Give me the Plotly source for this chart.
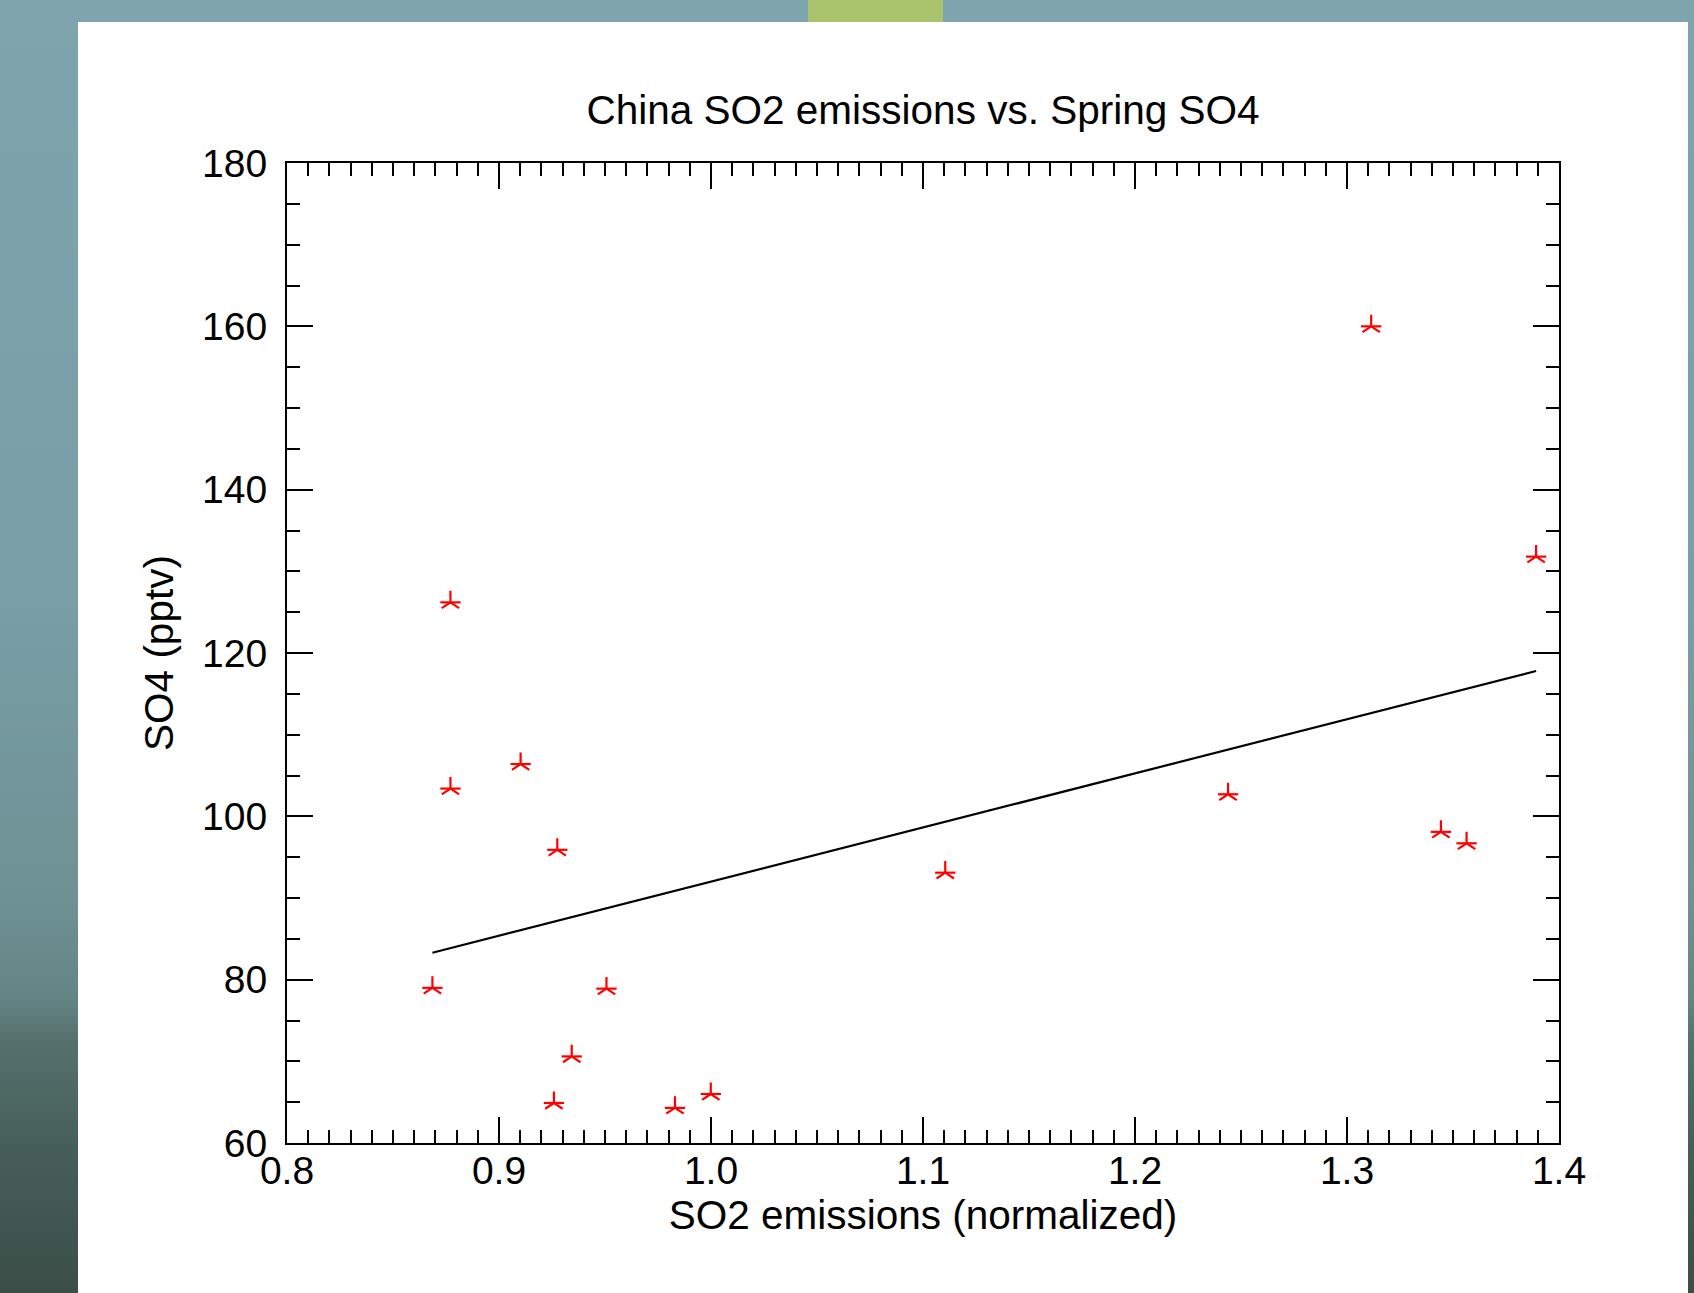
import plotly.graph_objects as go

# ---- data ----
so2_emissions = [0.8771, 0.8771, 0.9102, 0.9275, 0.8686, 0.9507, 0.9343, 0.9259,
                 0.9830, 0.9999, 1.1105, 1.2439, 1.3114, 1.3443, 1.3564, 1.3892]
so4_pptv = [126.2, 103.4, 106.4, 95.9, 79.0, 78.9, 70.6, 64.9,
            64.3, 66.0, 93.1, 102.7, 160.0, 98.1, 96.7, 131.8]
fit_x = [0.8686, 1.3892]
fit_y = [83.3, 117.8]

x_ticks = [0.8, 0.9, 1.0, 1.1, 1.2, 1.3, 1.4]
x_ticklabels = ["0.8", "0.9", "1.0", "1.1", "1.2", "1.3", "1.4"]
y_ticks = [60, 80, 100, 120, 140, 160, 180]
y_ticklabels = ["60", "80", "100", "120", "140", "160", "180"]

title_text = "China SO2 emissions vs. Spring SO4"
x_title = "SO2 emissions (normalized)"
y_title = "SO4 (pptv)"

# ---- geometry ----
W, H = 1694, 1293
ML, MR, MT, MB = 287, 135, 163, 150
PW, PH = W - ML - MR, H - MT - MB
FONT = "Liberation Sans, Arial, Helvetica, sans-serif"
RED = "#ff0000"


def px2paper_x(px):
    return (px - ML) / PW


def px2paper_y(py):
    return 1 - (py - MT) / PH


# background gradient (slide backdrop)
stops = [(0, (126, 165, 173)), (600, (120, 158, 166)), (900, (110, 145, 148)),
         (1000, (100, 132, 132)), (1040, (85, 113, 110)), (1150, (70, 94, 89)),
         (1293, (60, 78, 72))]


def col_at(y):
    for (y0, c0), (y1, c1) in zip(stops[:-1], stops[1:]):
        if y0 <= y <= y1:
            t = (y - y0) / (y1 - y0)
            return tuple(round(a + (b - a) * t) for a, b in zip(c0, c1))
    return stops[-1][1]


shapes = []
band = 8
for y in range(0, H, band):
    c = col_at(y + band / 2)
    shapes.append(dict(type="rect", xref="paper", yref="paper", layer="below",
                       x0=px2paper_x(0), x1=px2paper_x(W),
                       y0=px2paper_y(y), y1=px2paper_y(min(H, y + band + 1)),
                       fillcolor=f"rgb{c}", line=dict(width=0)))
# green tab
shapes.append(dict(type="rect", xref="paper", yref="paper", layer="below",
                   x0=px2paper_x(808), x1=px2paper_x(943),
                   y0=px2paper_y(0), y1=px2paper_y(23),
                   fillcolor="#a9c46c", line=dict(width=0)))
# white slide panel
shapes.append(dict(type="rect", xref="paper", yref="paper", layer="below",
                   x0=px2paper_x(78), x1=px2paper_x(1688),
                   y0=px2paper_y(22), y1=px2paper_y(H + 2),
                   fillcolor="white", line=dict(width=0)))

fig = go.Figure()

fig.add_trace(go.Scatter(x=fit_x, y=fit_y, mode="lines",
                         line=dict(color="black", width=2.2), showlegend=False,
                         hoverinfo="skip"))
# asterisk markers: horizontal bar + inverted-Y
fig.add_trace(go.Scatter(x=so2_emissions, y=so4_pptv, mode="markers",
                         marker=dict(symbol="line-ew-open", size=14.5, color=RED,
                                     line=dict(color=RED, width=2.2)),
                         showlegend=False))
fig.add_trace(go.Scatter(x=so2_emissions, y=so4_pptv, mode="markers",
                         marker=dict(symbol="y-up-open", size=14.5, color=RED,
                                     line=dict(color=RED, width=2.2)),
                         showlegend=False))

axis_common = dict(showline=True, linecolor="black", linewidth=2, mirror="allticks",
                   ticks="inside", tickcolor="black", tickwidth=2, ticklen=26,
                   showgrid=False, zeroline=False,
                   tickfont=dict(family=FONT, size=39, color="black"))

fig.update_xaxes(range=[0.8, 1.4], tickvals=x_ticks, ticktext=x_ticklabels,
                 ticklabelstandoff=-8,
                 minor=dict(ticks="inside", dtick=0.01, ticklen=13, tickwidth=2,
                            tickcolor="black", showgrid=False),
                 title=dict(text=x_title, font=dict(family=FONT, size=40.5, color="black"),
                            standoff=6),
                 **axis_common)
fig.update_yaxes(range=[60, 180], tickvals=y_ticks, ticktext=y_ticklabels,
                 ticklabelstandoff=10,
                 minor=dict(ticks="inside", dtick=5, ticklen=13, tickwidth=2,
                            tickcolor="black", showgrid=False),
                 title=dict(text=y_title, font=dict(family=FONT, size=40.5, color="black"),
                            standoff=16),
                 **axis_common)

fig.update_layout(
    width=W, height=H,
    margin=dict(l=ML, r=MR, t=MT, b=MB, pad=0),
    paper_bgcolor="rgb(126,165,173)",
    plot_bgcolor="rgba(0,0,0,0)",
    shapes=shapes,
    title=dict(text=title_text, x=0.5, xref="paper", y=1 - 110 / H, yref="container",
               xanchor="center", yanchor="middle",
               font=dict(family=FONT, size=40.5, color="black")),
    showlegend=False,
)

fig.write_html("out.html", config={"displayModeBar": False},
               post_script="document.body.style.margin='0';document.body.style.overflow='hidden';")
